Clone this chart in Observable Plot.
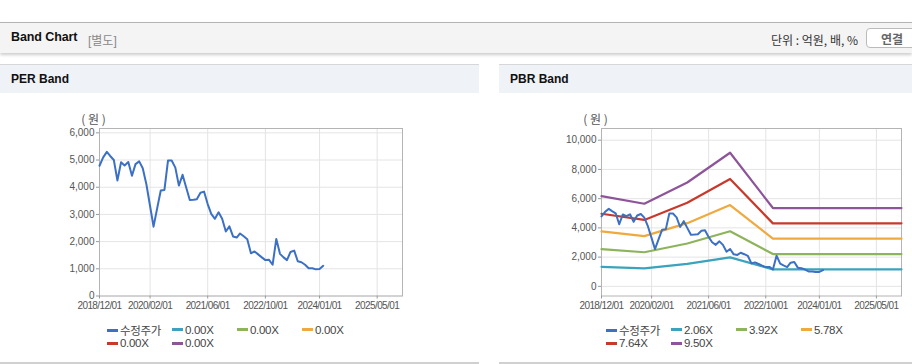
<!DOCTYPE html>
<html><head><meta charset="utf-8">
<script src="https://cdn.jsdelivr.net/npm/d3@7"></script>
<script src="https://cdn.jsdelivr.net/npm/@observablehq/plot@0.6"></script>
<style>
body{margin:0;background:#fff;font-family:"Liberation Sans","Noto Sans CJK KR",sans-serif;}
#page{position:relative;width:912px;height:364px;overflow:hidden;background:#fff;}
.hdr{position:absolute;left:0;top:22px;width:912px;height:30px;background:#f4f4f4;border-top:1px solid #b4b4b4;box-shadow:0 2px 3px rgba(0,0,0,0.2);}
.hdr .t{position:absolute;left:11px;top:7px;font-size:12.5px;font-weight:bold;color:#111;letter-spacing:-0.1px;}
.hdr .s{position:absolute;left:88px;top:8px;font-size:12px;color:#888;}
.hdr .u{position:absolute;left:771px;top:8px;font-size:12px;color:#333;font-family:"Noto Sans CJK KR","Liberation Sans",sans-serif;}
.hdr .b{position:absolute;left:866px;top:5px;width:60px;height:18px;border:1px solid #bbb;border-radius:4px;background:#fff;}
.hdr .b span{position:absolute;left:14px;top:1px;font-size:12px;color:#666;font-weight:bold;font-family:"Noto Sans CJK KR",sans-serif;}
.ptitle{position:absolute;top:64px;height:28px;background:#eff2f7;border-top:1px solid #d6d6d6;}
.ptitle span{position:absolute;left:11px;top:7px;font-size:12px;font-weight:bold;color:#111;}
.pbot{position:absolute;top:362px;height:2px;background:#d0d0d0;}
.chart{position:absolute;top:100px;}
.chart g[aria-label="x-axis tick label"] text{letter-spacing:-0.6px;}
.legend{position:absolute;top:324px;display:grid;grid-template-columns:repeat(4,65px);font-size:11.5px;line-height:13.3px;color:#444;letter-spacing:-0.3px;}
.legend div{white-space:nowrap;}
.legend i{display:inline-block;width:11px;height:3px;vertical-align:middle;margin-right:2px;position:relative;top:-1px;}
</style></head>
<body><div id="page">
<div class="hdr"><span class="t">Band Chart</span><span class="s">[별도]</span><span class="u">단위 : 억원, 배, %</span><div class="b"><span>연결</span></div></div>
<div class="ptitle" style="left:0;width:479px"><span>PER Band</span></div>
<div class="ptitle" style="left:499px;width:413px"><span>PBR Band</span></div>
<div class="pbot" style="left:0;width:479px"></div>
<div class="pbot" style="left:499px;width:413px"></div>
<div id="per" class="chart" style="left:0"></div>
<div id="pbr" class="chart" style="left:499px"></div>
<div id="perLeg" class="legend" style="left:107px"></div>
<div id="pbrLeg" class="legend" style="left:606px"></div>
</div>
<script>
// ---- data ----
const months = ["2018-12","2019-01","2019-02","2019-03","2019-04","2019-05","2019-06","2019-07","2019-08","2019-09","2019-10","2019-11",
"2019-12","2020-01","2020-02","2020-03","2020-04","2020-05","2020-06","2020-07","2020-08","2020-09","2020-10","2020-11",
"2020-12","2021-01","2021-02","2021-03","2021-04","2021-05","2021-06","2021-07","2021-08","2021-09","2021-10","2021-11",
"2021-12","2022-01","2022-02","2022-03","2022-04","2022-05","2022-06","2022-07","2022-08","2022-09","2022-10","2022-11",
"2022-12","2023-01","2023-02","2023-03","2023-04","2023-05","2023-06","2023-07","2023-08","2023-09","2023-10","2023-11",
"2023-12","2024-01","2024-02"];
const price = [4790,5100,5300,5150,5000,4250,4920,4800,4930,4420,4850,4950,
4700,4100,3300,2550,3230,3880,3900,4980,4980,4720,4060,4460,
4000,3530,3540,3560,3800,3840,3380,3020,2840,3080,2840,2370,
2560,2190,2150,2300,2200,2090,1570,1640,1530,1420,1320,1330,
1150,2100,1550,1430,1320,1620,1670,1280,1240,1150,1020,1020,
980,990,1110];
// book value per share at band vertices
const bpsDates = ["2018-12","2019-12","2020-12","2021-12","2022-12","2025-12"];
const bps = [650,595,748,962,564,564];
const pbrMultiples = [2.06,3.92,5.78,7.64,9.50];
const perMultiples = [0,0,0,0,0];
const bandColors = ["#3ba3bd","#8db45a","#efa93e","#c8392b","#8e5499"];
const priceColor = "#3c70c4";
const priceName = "수정주가";
const xTickLabels = ["2018/12/01","2020/02/01","2021/06/01","2022/10/01","2024/01/01","2025/05/01"];
const perYTicks = [0,1000,2000,3000,4000,5000,6000];
const pbrYTicks = [0,2000,4000,6000,8000,10000];

// ---- build ----
const pm = d3.utcParse("%Y-%m");
const pt = d3.utcParse("%Y/%m/%d");
const priceData = months.map((m,i)=>({date:pm(m), value:price[i]}));
const xTicks = xTickLabels.map(pt);
const xDomain = [pm("2018-12"), pm("2025-12")];
const fmtX = d3.utcFormat("%Y/%m/%d");
const fmtY = d3.format(",");

function chart({width, marginLeft, marginRight, yDomain, yTicks, bands}) {
  const marks = [
    Plot.gridX(xTicks, {stroke:"#e4e4e4", strokeOpacity:1}),
    Plot.gridY(yTicks, {stroke:"#e4e4e4", strokeOpacity:1}),
    Plot.frame({stroke:"#b4b4b4"}),
    Plot.axisX(xTicks, {tickFormat:fmtX, tickSize:3, tickPadding:3, stroke:"#999", fill:"#555"}),
    Plot.axisY(yTicks, {tickFormat:fmtY, tickSize:3, tickPadding:2, stroke:"#999", fill:"#555", label:null}),
    Plot.text(["( 원 )"], {frameAnchor:"top-left", textAnchor:"middle", dx:-6, dy:-13, fontSize:12, fill:"#555", fontFamily:"Noto Sans CJK KR"})
  ];
  if (bands) marks.push(Plot.line(bands, {x:"date", y:"value", z:"series", stroke:d=>bandColors[d.k], strokeWidth:2.2}));
  marks.push(Plot.line(priceData, {x:"date", y:"value", stroke:priceColor, strokeWidth:2}));
  return Plot.plot({
    width, height:222, marginLeft, marginRight, marginTop:28, marginBottom:26.5,
    x:{type:"utc", domain:xDomain},
    y:{domain:yDomain},
    style:{fontSize:"10px", fontFamily:"Liberation Sans, sans-serif", color:"#555", background:"transparent", overflow:"visible"},
    marks
  });
}

const pbrBands = [];
pbrMultiples.forEach((mult,k)=>bpsDates.forEach((d,i)=>pbrBands.push({series:k, k, date:pm(d), value:bps[i]*mult})));

document.getElementById("per").append(chart({width:479, marginLeft:99, marginRight:77, yDomain:[0,6160], yTicks:perYTicks, bands:null}));
document.getElementById("pbr").append(chart({width:413, marginLeft:102, marginRight:11, yDomain:[-660,10800], yTicks:pbrYTicks, bands:pbrBands}));

function legend(el, multiples) {
  const items = [{name:priceName, color:priceColor}].concat(multiples.map((m,k)=>({name:m.toFixed(2)+"X", color:bandColors[k]})));
  for (const it of items) {
    const d = document.createElement("div");
    d.innerHTML = `<i style="background:${it.color}"></i>${it.name}`;
    if (it.name === priceName) d.style.fontFamily = '"Noto Sans CJK KR", sans-serif';
    el.append(d);
  }
}
legend(document.getElementById("perLeg"), perMultiples);
legend(document.getElementById("pbrLeg"), pbrMultiples);
</script>
</body></html>
